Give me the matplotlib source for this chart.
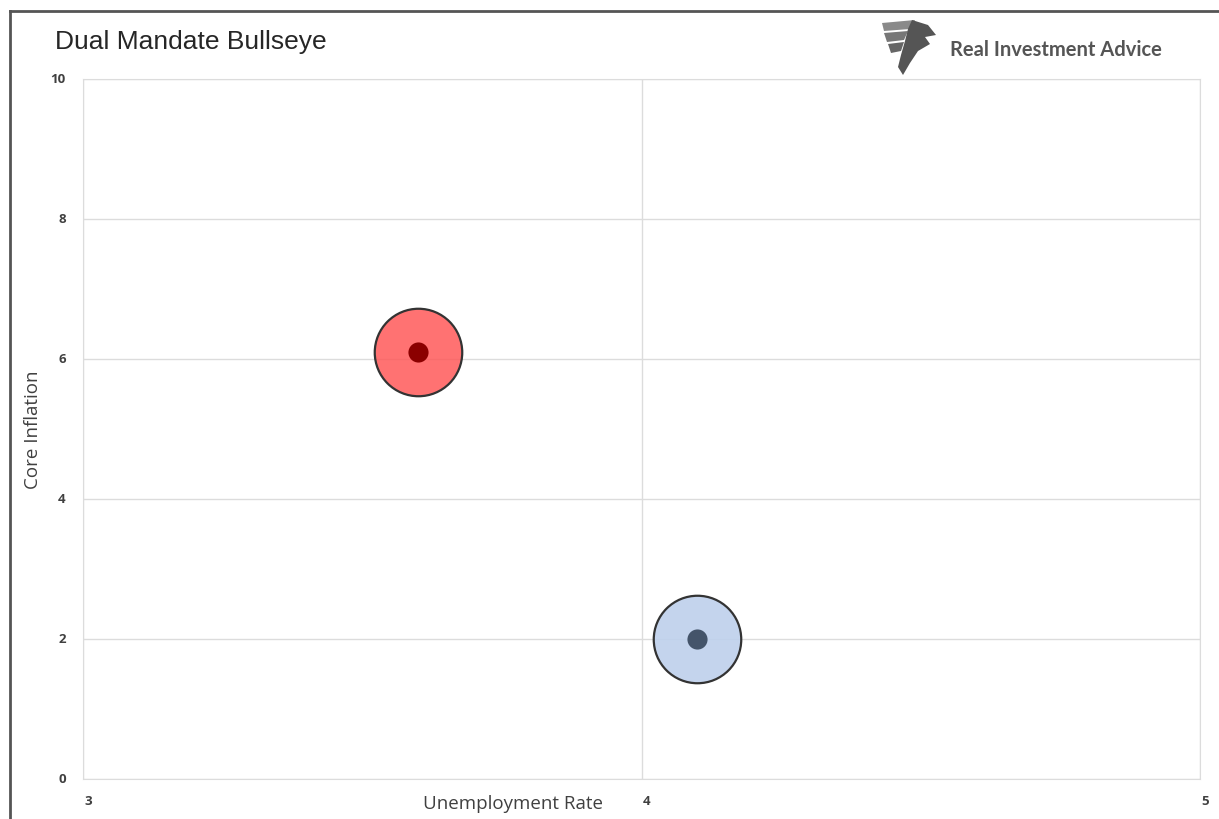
import matplotlib.pyplot as plt
from matplotlib.lines import Line2D
from matplotlib.patches import Polygon
import matplotlib.transforms as mtransforms

# data
labels = ["Current", "Target"]
unemployment = [3.6, 4.1]
core_inflation = [6.1, 2.0]
fill_colors = [(1.0, 0.35, 0.35, 0.85), (0.745, 0.815, 0.925, 0.9)]
dot_colors = ["#8b0000", "#44546a"]

xticks = [3, 4, 5]
yticks = [0, 2, 4, 6, 8, 10]

plt.rcParams['font.family'] = ['Open Sans', 'DejaVu Sans']

fig = plt.figure(figsize=(12.19, 8.2), dpi=100)
ax = fig.add_axes([83 / 1219, 1 - 780 / 820, 1117 / 1219, 700 / 820])

for x, y, fc, dc in zip(unemployment, core_inflation, fill_colors, dot_colors):
    ax.plot(x, y, 'o', ms=63, mfc=fc, mec='#333333', mew=1.6, zorder=3)
    ax.plot(x, y, 'o', ms=14.5, mfc=dc, mec='none', zorder=5)

ax.set_xlim(3, 5)
ax.set_ylim(0, 10)
ax.set_xticks(xticks)
ax.set_yticks(yticks)
ax.grid(True, color='#dcdcdc', lw=1)
ax.set_axisbelow(True)
for s in ax.spines.values():
    s.set_color('#dcdcdc')
ax.tick_params(length=0, labelsize=9.5, colors='#404040')
ax.tick_params(axis='x', pad=11)
ax.tick_params(axis='y', pad=16)

offx = mtransforms.ScaledTranslation(5 / 100, 0, fig.dpi_scale_trans)
for lab in ax.get_xticklabels():
    lab.set_transform(lab.get_transform() + offx)
    lab.set_fontweight('bold')
offy = mtransforms.ScaledTranslation(0.05, 2 / 100, fig.dpi_scale_trans)
for lab in ax.get_yticklabels():
    lab.set_transform(lab.get_transform() + offy)
    lab.set_fontweight('bold')

ax.set_xlabel("Unemployment Rate", fontsize=13.5, color='#404040')
ax.xaxis.set_label_coords(0.385, -0.021)
ax.set_ylabel("Core Inflation", fontsize=13.5, color='#404040')
ax.yaxis.set_label_coords(-0.037, 0.5)

fig.text(55 / 1219, 1 - 42 / 820, "Dual Mandate Bullseye", fontsize=19,
         family=['Liberation Sans', 'DejaVu Sans'], color='#262626', va='center')

fig.text(950 / 1219, 1 - 50 / 820, "Real Investment Advice", fontsize=14.5,
         fontweight='bold', family=['Lato', 'DejaVu Sans'], color='#555555', va='center')

# simple eagle-like logo mark
feathers = [
    [(882, 24), (915, 21), (910, 30), (884, 32)],
    [(884, 34), (908, 32), (904, 41), (887, 43)],
    [(888, 45), (904, 43), (901, 52), (891, 54)],
]
head = [(912, 21), (928, 26), (936, 36), (925, 38), (930, 45), (918, 52),
        (910, 64), (903, 76), (898, 68), (901, 56), (905, 42), (908, 30)]
for shape, col in zip(feathers + [head], ['#8a8a8a', '#777777', '#666666', '#555555']):
    fig.add_artist(Polygon([(px / 1219, 1 - py / 820) for px, py in shape],
                           closed=True, transform=fig.transFigure, fc=col, ec='none'))

# outer frame of the screenshot
fig.add_artist(Line2D([10 / 1219, 1], [1 - 12 / 820, 1 - 12 / 820], transform=fig.transFigure,
                      color='#555555', lw=2))
fig.add_artist(Line2D([10 / 1219, 10 / 1219], [0, 1 - 12 / 820], transform=fig.transFigure,
                      color='#555555', lw=2))

fig.savefig("out.png", dpi=100, facecolor='white')
